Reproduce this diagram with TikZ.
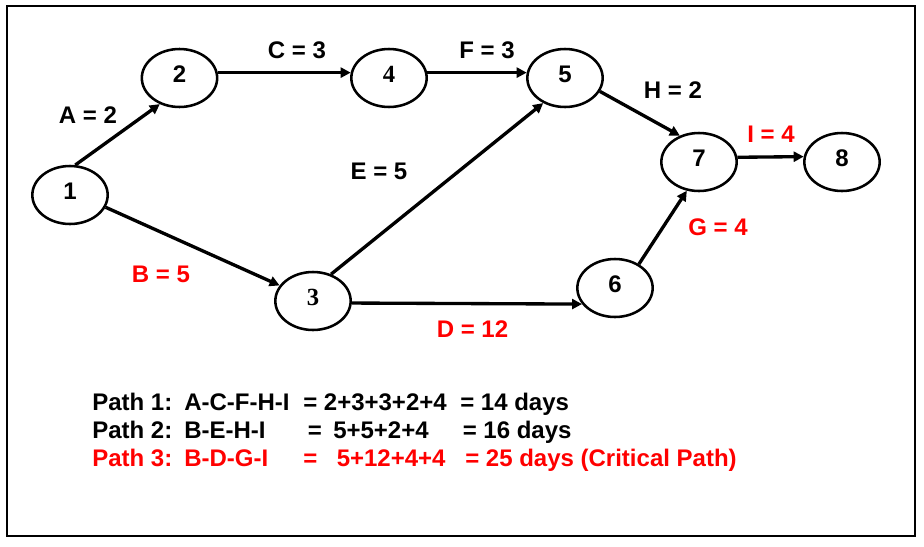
\documentclass[tikz,border=0pt]{standalone}
\usepackage{fontspec}
\setmainfont{Liberation Sans}
\newfontfamily\serifnum{Liberation Serif}
\usetikzlibrary{shapes.geometric,arrows.meta}
\begin{document}
\begin{tikzpicture}[x=0.75pt,y=-0.75pt,
  ev/.style={draw, ellipse, line width=1.9pt, minimum width=56.5pt, minimum height=43.5pt,
    inner sep=0pt, font=\fontsize{18}{20}\selectfont\bfseries, text depth=5.5pt},
  evserif/.style={ev, font=\fontsize{18.5}{20}\selectfont\serifnum\bfseries},
  act/.style={line width=2.5pt, -{Triangle[length=7.5pt,width=7.5pt]}},
  lbl/.style={anchor=base, inner sep=0pt, font=\fontsize{18}{20}\selectfont\bfseries},
  crit/.style={text=red},
  pth/.style={anchor=base west, inner sep=0pt, font=\fontsize{18}{20}\selectfont\bfseries}
]
\useasboundingbox (0,0) rectangle (924,546);
\coordinate (fa) at (7,6);
\coordinate (fb) at (915,536);
\draw[line width=1.5pt] (fa) rectangle (fb);

% events
\node[ev] (n1) at (70,195) {1};
\node[ev] (n2) at (179.5,78) {2};
\node[evserif] (n4) at (389,78) {4};
\node[evserif] (n3) at (313,301) {3};
\node[ev] (n5) at (565,78) {5};
\node[ev] (n7) at (699,162) {7};
\node[ev] (n8) at (842,162) {8};
\node[ev] (n6) at (615,288) {6};

% activities
\draw[act] (n1.80) -- (n2.233);
\draw[act] (n2.8) -- (n4.172);
\draw[act] (n4.8) -- (n5.172);
\draw[act] (n1.-19) -- (n3.155);
\draw[act] (n3.56) -- (n5.229);
\draw[act] (n3.-3) -- (n6.206);
\draw[act] (n5.-21) -- (n7.126);
\draw[act] (n6.45) -- (n7.247);
\draw[act] (n7.7.5) -- (n8.172.5);

% activity labels
\node[lbl] (la) at (88,123) {A = 2};
\node[lbl] (lc) at (297,58) {C = 3};
\node[lbl] (lf) at (487,58) {F = 3};
\node[lbl] (le) at (379,179) {E = 5};
\node[lbl, crit] (lb) at (161,282) {B = 5};
\node[lbl] (lh) at (673,98) {H = 2};
\node[lbl, crit] (li) at (771,142) {I = 4};
\node[lbl, crit] (lg) at (718,235.5) {G = 4};
\node[lbl, crit] (ld) at (472.5,337) {D = 12};

% paths
\node[pth] (p1a) at (92,410) {Path 1:};
\node[pth] (p1b) at (184,410) {A-C-F-H-I};
\node[pth] (p1c) at (303,410) {= 2+3+3+2+4};
\node[pth] (p1d) at (460,410) {= 14 days};

\node[pth] (p2a) at (92,438) {Path 2:};
\node[pth] (p2b) at (184,438) {B-E-H-I};
\node[pth] (p2c) at (307.5,438) {=};
\node[pth] (p2d) at (333,438) {5+5+2+4};
\node[pth] (p2e) at (462.5,438) {= 16 days};

\node[pth, crit] (p3a) at (92,466) {Path 3:};
\node[pth, crit] (p3b) at (184,466) {B-D-G-I};
\node[pth, crit] (p3c) at (303,466) {=};
\node[pth, crit] (p3d) at (336.5,466) {5+12+4+4};
\node[pth, crit] (p3e) at (465,466) {= 25 days (Critical Path)};
\end{tikzpicture}
\end{document}
